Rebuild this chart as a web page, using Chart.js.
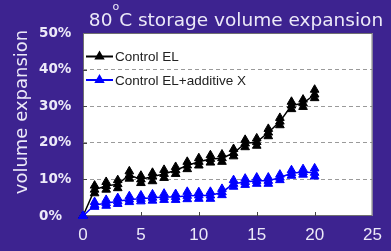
<!DOCTYPE html>
<html>
<head>
<meta charset="utf-8">
<title>80°C storage volume expansion</title>
<script src="https://cdn.jsdelivr.net/npm/chart.js@4.4.1/dist/chart.umd.min.js"></script>
<style>
  html, body { margin: 0; padding: 0; background: #3d2390; }
  #wrap { width: 391px; height: 251px; }
</style>
</head>
<body>
<div id="wrap"><canvas id="chart" width="391" height="251"></canvas></div>
<script>
// values (storage days vs % volume expansion)
const days = [0, 1, 2, 3, 4, 5, 6, 7, 8, 9, 10, 11, 12, 13, 14, 15, 16, 17, 18, 19, 20];

// Control EL: line goes through the middle reading, the other two are the stacked markers
const controlMid  = [0, 7.2, 8.2, 8.7, 11.2, 10.0, 10.8, 11.5, 12.5, 13.8, 14.8, 15.6, 15.8, 17.2, 19.8, 20.2, 22.8, 25.8, 30.2, 30.8, 33.2];
const controlHigh = [0, 8.3, 9.3, 9.8, 12.2, 11.0, 11.8, 12.6, 13.4, 14.8, 15.8, 16.6, 16.8, 18.3, 20.8, 21.2, 23.8, 26.8, 31.2, 31.8, 34.5];
const controlLow  = [0, 6.2, 7.2, 7.6, 10.2, 9.0, 9.5, 10.4, 11.5, 12.8, 13.8, 14.6, 14.8, 16.3, 18.8, 19.2, 21.8, 24.8, 29.2, 29.8, 32.2];

// Control EL + additive X
const additiveMid  = [0, 3.0, 3.5, 4.0, 4.5, 4.7, 5.0, 5.2, 5.2, 5.5, 5.6, 5.6, 6.5, 8.8, 9.3, 9.6, 9.6, 10.5, 11.7, 12.0, 11.8];
const additiveHigh = [0, 3.8, 4.4, 4.9, 5.4, 5.6, 5.9, 6.1, 6.0, 6.6, 6.5, 6.6, 7.4, 9.8, 10.2, 10.5, 10.5, 11.3, 12.5, 12.8, 13.0];
const additiveLow  = [0, 2.5, 2.8, 3.3, 3.8, 4.0, 4.2, 4.4, 4.4, 4.6, 4.7, 4.7, 5.7, 8.0, 8.5, 8.8, 8.8, 9.8, 11.0, 11.3, 10.8];

const xTicks = [0, 5, 10, 15, 20, 25];
const yTicks = [0, 10, 20, 30, 40, 50];
const seriesNames = ["Control EL", "Control EL+additive X"];
const yTitle = "volume expansion";

const PURPLE = "#3d2390";
const LIGHT = "#ece9f8";

function toPoints(values) {
  return days.map((d, i) => ({ x: d, y: values[i] }));
}

function series(label, values, color, showLine, order) {
  return {
    label,
    data: toPoints(values),
    borderColor: color,
    backgroundColor: color,
    borderWidth: 1.5,
    showLine,
    pointStyle: "triangle",
    pointRadius: 5,
    pointBorderWidth: 1,
    pointBorderColor: color,
    pointBackgroundColor: color,
    clip: false,
    order
  };
}

// purple page + white plot area
const backdrop = {
  id: "backdrop",
  beforeDraw(chart) {
    const { ctx, chartArea: a } = chart;
    ctx.save();
    ctx.fillStyle = PURPLE;
    ctx.fillRect(0, 0, chart.width, chart.height);
    ctx.fillStyle = "#ffffff";
    ctx.fillRect(a.left, a.top, a.right - a.left, a.bottom - a.top);
    ctx.restore();
  },
  beforeDatasetsDraw(chart) {
    const { ctx, chartArea: a, scales } = chart;
    ctx.save();
    ctx.strokeStyle = "#707070";
    ctx.lineWidth = 1;
    ctx.strokeRect(a.left + 0.5, a.top + 0.5, a.right - a.left - 1, a.bottom - a.top - 1);
    // short tick marks pointing into the plot
    ctx.strokeStyle = "#444";
    ctx.beginPath();
    xTicks.slice(1, -1).forEach(v => {
      const px = Math.round(scales.x.getPixelForValue(v)) + 0.5;
      ctx.moveTo(px, a.bottom);
      ctx.lineTo(px, a.bottom - 4);
    });
    yTicks.slice(1, -1).forEach(v => {
      const py = Math.round(scales.y.getPixelForValue(v)) + 0.5;
      ctx.moveTo(a.left, py);
      ctx.lineTo(a.left + 4, py);
    });
    ctx.stroke();
    ctx.restore();
  }
};

// title with superscript degree, rotated y title and the inset legend
const texts = {
  id: "texts",
  afterDraw(chart) {
    const { ctx, chartArea: a } = chart;
    ctx.save();
    ctx.fillStyle = LIGHT;
    ctx.textBaseline = "alphabetic";

    const big = "18.5px 'DejaVu Sans'";
    const small = "11px 'DejaVu Sans'";
    ctx.font = big;
    const w1 = ctx.measureText("80").width;
    const w3 = ctx.measureText("C storage volume expansion").width;
    ctx.font = small;
    const w2 = ctx.measureText("o").width;
    let x = 236 - (w1 + w2 + w3) / 2;
    const base = 26;
    ctx.font = big;
    ctx.fillText("80", x, base);
    x += w1;
    ctx.font = small;
    ctx.fillText("o", x, base - 16);
    x += w2;
    ctx.font = big;
    ctx.fillText("C storage volume expansion", x, base);

    ctx.translate(27, 112);
    ctx.rotate(-Math.PI / 2);
    ctx.font = "18px 'DejaVu Sans'";
    ctx.textAlign = "center";
    ctx.fillText(yTitle, 0, 0);
    ctx.restore();

    // legend
    ctx.save();
    const legendColors = ["#000000", "#0000ff"];
    seriesNames.forEach((name, i) => {
      const y = a.top + 23.5 + i * 23.5;
      const x0 = a.left + 3, x1 = a.left + 30;
      ctx.strokeStyle = legendColors[i];
      ctx.lineWidth = 2;
      ctx.beginPath();
      ctx.moveTo(x0, y);
      ctx.lineTo(x1, y);
      ctx.stroke();
      ctx.fillStyle = legendColors[i];
      Chart.helpers.drawPoint(ctx, { pointStyle: "triangle", radius: 4, borderWidth: 1 }, (x0 + x1) / 2, y);
      ctx.fillStyle = "#222";
      ctx.font = "13.5px 'Liberation Sans'";
      ctx.textBaseline = "middle";
      ctx.fillText(name, x1 + 2, y + 1);
    });
    ctx.restore();
  }
};

new Chart(document.getElementById("chart"), {
  type: "line",
  data: {
    datasets: [
      series(seriesNames[0], controlMid, "#000000", true, 1),
      series(seriesNames[0] + " hi", controlHigh, "#000000", false, 1),
      series(seriesNames[0] + " lo", controlLow, "#000000", false, 1),
      series(seriesNames[1], additiveMid, "#0000ff", true, 0),
      series(seriesNames[1] + " hi", additiveHigh, "#0000ff", false, 0),
      series(seriesNames[1] + " lo", additiveLow, "#0000ff", false, 0)
    ]
  },
  options: {
    responsive: false,
    animation: false,
    devicePixelRatio: 1,
    events: [],
    layout: { padding: { left: 39, top: 33, right: 12, bottom: 0 } },
    scales: {
      x: {
        type: "linear",
        min: 0,
        max: 25,
        afterBuildTicks: s => { s.ticks = xTicks.map(v => ({ value: v })); },
        afterFit: s => { s.height = 35; },
        grid: { display: false, drawTicks: false },
        border: { display: false },
        ticks: {
          color: LIGHT,
          padding: 9,
          maxRotation: 0,
          font: { family: "'Liberation Sans'", size: 17 }
        }
      },
      y: {
        min: 0,
        max: 50,
        afterBuildTicks: s => { s.ticks = yTicks.map(v => ({ value: v })); },
        afterFit: s => { s.width = 44; },
        grid: {
          drawTicks: false,
          lineWidth: 1,
          color: c => (c.tick && c.tick.value > 0 && c.tick.value < 50) ? "#9a9a9a" : "rgba(0,0,0,0)"
        },
        border: { display: false, dash: [4, 3] },
        ticks: {
          color: LIGHT,
          crossAlign: "far",
          callback: v => v + "%",
          font: { family: "'DejaVu Sans'", size: 13.5, weight: "bold" }
        }
      }
    },
    plugins: {
      legend: { display: false },
      title: { display: false },
      tooltip: { enabled: false }
    }
  },
  plugins: [backdrop, texts]
});
</script>
</body>
</html>
